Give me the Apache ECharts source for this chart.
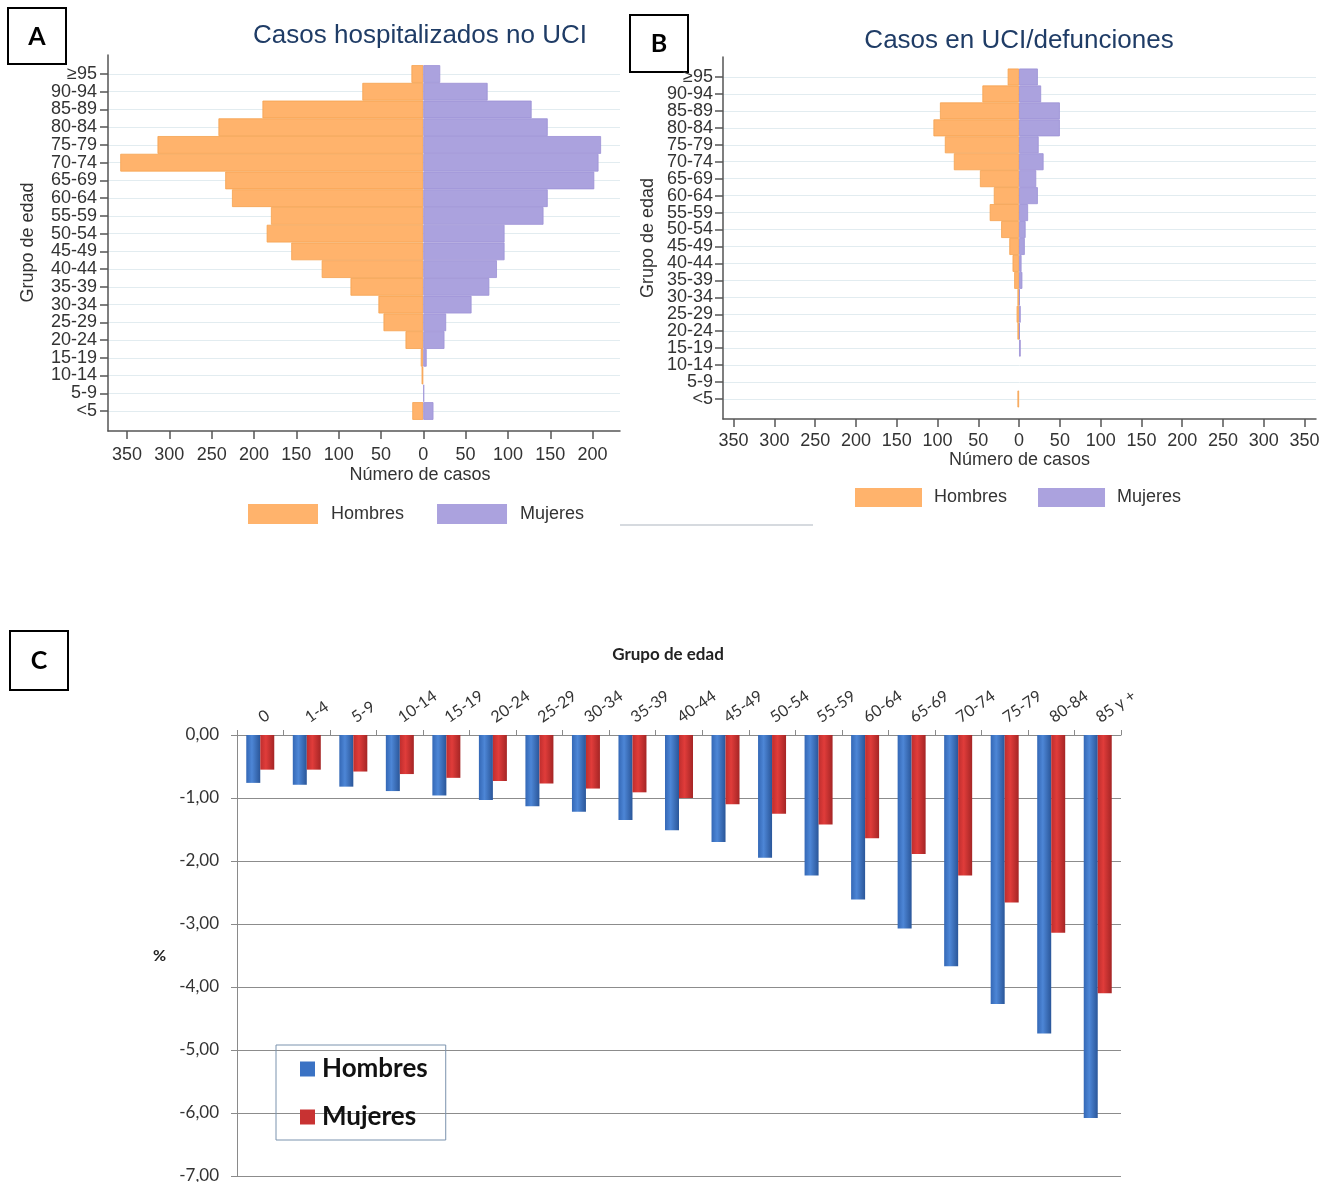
<!DOCTYPE html>
<html><head><meta charset="utf-8">
<script src="https://cdn.jsdelivr.net/npm/echarts@6/dist/echarts.min.js"></script>
<style>html,body{margin:0;padding:0;background:#fff}#c{width:1336px;height:1182px}</style>
</head><body><div id="c"></div>
<script>
// ---- Panels A and B: age groups (bottom to top) ----
const agesAB = ['<5','5-9','10-14','15-19','20-24','25-29','30-34','35-39','40-44','45-49','50-54','55-59','60-64','65-69','70-74','75-79','80-84','85-89','90-94','≥95'];
const hombresA = [13,0,2,3,21,47,53,86,120,156,185,180,226,234,358,314,242,190,72,14];
const mujeresA = [12,1,0,4,25,27,57,78,87,96,96,142,147,202,207,210,147,128,76,20];
const hombresB = [2,0,0,0,2,3,2,6,8,12,22,36,31,48,80,91,105,97,45,14];
const mujeresB = [0,0,0,2,1,2,1,4,3,7,8,11,23,21,30,24,50,50,27,23];
const ticksA = [-350,-300,-250,-200,-150,-100,-50,0,50,100,150,200];
const ticksB = [-350,-300,-250,-200,-150,-100,-50,0,50,100,150,200,250,300,350];

// ---- Panel C ----
const agesC = ['0','1-4','5-9','10-14','15-19','20-24','25-29','30-34','35-39','40-44','45-49','50-54','55-59','60-64','65-69','70-74','75-79','80-84','85 y +'];
const hombresC = [-0.76,-0.79,-0.82,-0.89,-0.96,-1.03,-1.13,-1.22,-1.35,-1.51,-1.70,-1.95,-2.23,-2.61,-3.07,-3.67,-4.27,-4.74,-6.08];
const mujeresC = [-0.55,-0.55,-0.58,-0.62,-0.68,-0.73,-0.77,-0.85,-0.91,-1.00,-1.10,-1.25,-1.42,-1.64,-1.89,-2.23,-2.66,-3.14,-4.10];

const ORANGE = '#ffb36c', ORANGE_B = '#f5a24f';
const PURPLE = '#aba2de', PURPLE_B = '#9c91d5';
const AX = '#555';
const SF = '"Liberation Sans", Arial, sans-serif';
const CF = 'Lato, "Open Sans", sans-serif';

const neg = a => a.map(v => v === 0 ? null : -v);
const pos = a => a.map(v => v === 0 ? null : v);

const blueGrad = new echarts.graphic.LinearGradient(0,0,1,0,[{offset:0,color:'#3468b6'},{offset:0.4,color:'#4d86d6'},{offset:1,color:'#2a5699'}]);
const redGrad = new echarts.graphic.LinearGradient(0,0,1,0,[{offset:0,color:'#c02e2e'},{offset:0.4,color:'#e03c3a'},{offset:1,color:'#a52525'}]);

function hiddenX(grid, min, max){
  return {type:'value', gridIndex:grid, min:min, max:max, show:false};
}
function frameX(grid, min, max, ticks, margin, gap, namePad){
  return {type:'value', gridIndex:grid, min:min, max:max, position:'bottom',
    axisLine:{show:true, onZero:false, lineStyle:{color:AX, width:1.5}},
    axisTick:{show:true, length:8, customValues:ticks, lineStyle:{color:AX, width:1.5}},
    axisLabel:{customValues:ticks, formatter:v=>String(Math.abs(v)), margin:margin, fontSize:18, color:'#333', fontFamily:SF},
    splitLine:{show:false},
    name:'Número de casos', nameLocation:'middle', nameGap:gap,
    nameTextStyle:{fontSize:18, color:'#333', fontFamily:SF, padding:namePad}};
}
function catY(grid, margin, gap){
  return {type:'category', gridIndex:grid, data:agesAB, boundaryGap:false,
    axisLine:{show:false, onZero:false},
    axisTick:{show:true, length:8, interval:0, lineStyle:{color:AX, width:1.5}},
    axisLabel:{interval:0, margin:margin, fontSize:18, color:'#333', fontFamily:SF},
    splitLine:{show:true, interval:0, lineStyle:{color:'#e2ecf0', width:1}},
    name:'Grupo de edad', nameLocation:'middle', nameGap:gap,
    nameTextStyle:{fontSize:18, color:'#333', fontFamily:SF}};
}
function frameY(grid){
  return {type:'value', gridIndex:grid, min:0, max:1,
    axisLine:{show:true, onZero:false, lineStyle:{color:AX, width:1.5}},
    axisTick:{show:false}, axisLabel:{show:false}, splitLine:{show:false}};
}
function pyrBar(name, data, xi, yi, color, border){
  return {type:'bar', name:name, xAxisIndex:xi, yAxisIndex:yi, data:data,
    barCategoryGap:'0%', barGap:'-100%', clip:false,
    itemStyle:{color:color, borderColor:border, borderWidth:0.8}};
}

const option = {
  backgroundColor:'#fff',
  animation:false,
  grid:[
    {left:108, top:74, width:512, height:337, outerBoundsMode:'none'},
    {left:108, top:55, width:512, height:376, outerBoundsMode:'none'},
    {left:723, top:77, width:593, height:322, outerBoundsMode:'none'},
    {left:723, top:57, width:593, height:362, outerBoundsMode:'none'},
    {left:237, top:735, width:884, height:441, outerBoundsMode:'none'}
  ],
  xAxis:[
    hiddenX(0, -372.5, 232.4),
    frameX(1, -372.5, 232.4, ticksA, 15, 35, [0,0,0,112]),
    hiddenX(2, -363, 364),
    frameX(3, -363, 364, ticksB, 13, 32, 0),
    {type:'category', gridIndex:4, data:agesC, position:'top',
      axisLine:{show:true, lineStyle:{color:'#8a8a8a', width:1}},
      axisTick:{show:true, length:5, lineStyle:{color:'#8a8a8a'}},
      axisLabel:{rotate:35, interval:0, margin:16, fontSize:16, color:'#333', fontFamily:CF},
      name:'Grupo de edad', nameLocation:'middle', nameGap:72,
      nameTextStyle:{fontSize:17, fontWeight:'bold', color:'#222', fontFamily:CF, padding:[0,22,0,0]}}
  ],
  yAxis:[
    catY(0, 11, 71),
    frameY(1),
    catY(2, 10, 66),
    frameY(3),
    {type:'value', gridIndex:4, min:-7, max:0, interval:1,
      axisLine:{show:true, lineStyle:{color:'#8a8a8a'}},
      axisTick:{show:true, length:6, lineStyle:{color:'#8a8a8a'}},
      axisLabel:{formatter:v=>v.toFixed(2).replace('.',','), margin:18, fontSize:17, color:'#333', fontFamily:CF},
      splitLine:{show:true, lineStyle:{color:'#8c8c8c', width:1}},
      name:'%', nameLocation:'middle', nameRotate:0, nameGap:71,
      nameTextStyle:{fontSize:16, fontWeight:'bold', color:'#222', fontFamily:CF}}
  ],
  legend:[
    {left:248, top:504, padding:0, itemWidth:70, itemHeight:20, itemGap:33, icon:'rect', selectedMode:false,
      textStyle:{fontSize:18, color:'#333', fontFamily:SF, padding:[0,0,0,8]},
      data:[{name:'Hombres', itemStyle:{color:ORANGE, borderWidth:0}}, {name:'Mujeres', itemStyle:{color:PURPLE, borderWidth:0}}]},
    {left:855, top:488, padding:0, itemWidth:67, itemHeight:19, itemGap:31, icon:'rect', selectedMode:false,
      textStyle:{fontSize:18, color:'#333', fontFamily:SF, padding:[0,0,0,7]},
      data:[{name:'Hombres', itemStyle:{color:ORANGE, borderWidth:0}}, {name:'Mujeres', itemStyle:{color:PURPLE, borderWidth:0}}]},
    {left:276, top:1045, orient:'vertical', icon:'rect', itemWidth:15, itemHeight:15, itemGap:22, selectedMode:false,
      borderColor:'#7b93ae', borderWidth:1, padding:[11,18,10,24],
      textStyle:{fontSize:26, fontWeight:'bold', color:'#111', fontFamily:CF, padding:[0,0,0,2]},
      data:[{name:'Hombres', itemStyle:{color:'#3a72c4', borderWidth:0}}, {name:'Mujeres', itemStyle:{color:'#c83232', borderWidth:0}}]}
  ],
  series:[
    pyrBar('Hombres', neg(hombresA), 0, 0, ORANGE, ORANGE_B),
    pyrBar('Mujeres', pos(mujeresA), 0, 0, PURPLE, PURPLE_B),
    pyrBar('Hombres', neg(hombresB), 2, 2, ORANGE, ORANGE_B),
    pyrBar('Mujeres', pos(mujeresB), 2, 2, PURPLE, PURPLE_B),
    {type:'bar', name:'Hombres', xAxisIndex:4, yAxisIndex:4, data:hombresC, barWidth:14, barGap:'0%',
      itemStyle:{color:blueGrad}},
    {type:'bar', name:'Mujeres', xAxisIndex:4, yAxisIndex:4, data:mujeresC, barWidth:14, barGap:'0%',
      itemStyle:{color:redGrad}}
  ],
  graphic:[
    {type:'rect', shape:{x:8, y:8, width:58, height:56}, style:{fill:'#fff', stroke:'#000', lineWidth:2}},
    {type:'text', style:{text:'A', x:37, y:37, align:'center', verticalAlign:'middle', textAlign:'center', textVerticalAlign:'middle', font:'bold 25px Lato, sans-serif', fill:'#000'}},
    {type:'rect', shape:{x:630, y:15, width:58, height:57}, style:{fill:'#fff', stroke:'#000', lineWidth:2}},
    {type:'text', style:{text:'B', x:659, y:44, align:'center', verticalAlign:'middle', textAlign:'center', textVerticalAlign:'middle', font:'bold 25px Lato, sans-serif', fill:'#000'}},
    {type:'rect', shape:{x:10, y:631, width:58, height:59}, style:{fill:'#fff', stroke:'#000', lineWidth:2}},
    {type:'text', style:{text:'C', x:39, y:661, align:'center', verticalAlign:'middle', textAlign:'center', textVerticalAlign:'middle', font:'bold 25px Lato, sans-serif', fill:'#000'}},
    {type:'text', style:{text:'Casos hospitalizados no UCI', x:420, y:36, align:'center', verticalAlign:'middle', textAlign:'center', textVerticalAlign:'middle', font:'26px "Liberation Sans", Arial, sans-serif', fill:'#1f3c66'}},
    {type:'text', style:{text:'Casos en UCI/defunciones', x:1019, y:41, align:'center', verticalAlign:'middle', textAlign:'center', textVerticalAlign:'middle', font:'26px "Liberation Sans", Arial, sans-serif', fill:'#1f3c66'}},
    {type:'line', shape:{x1:620, y1:525, x2:813, y2:525}, style:{stroke:'#d6dadf', lineWidth:2}}
  ]
};
const chart = echarts.init(document.getElementById('c'), null, {renderer:'canvas'});
chart.setOption(option);
</script></body></html>
